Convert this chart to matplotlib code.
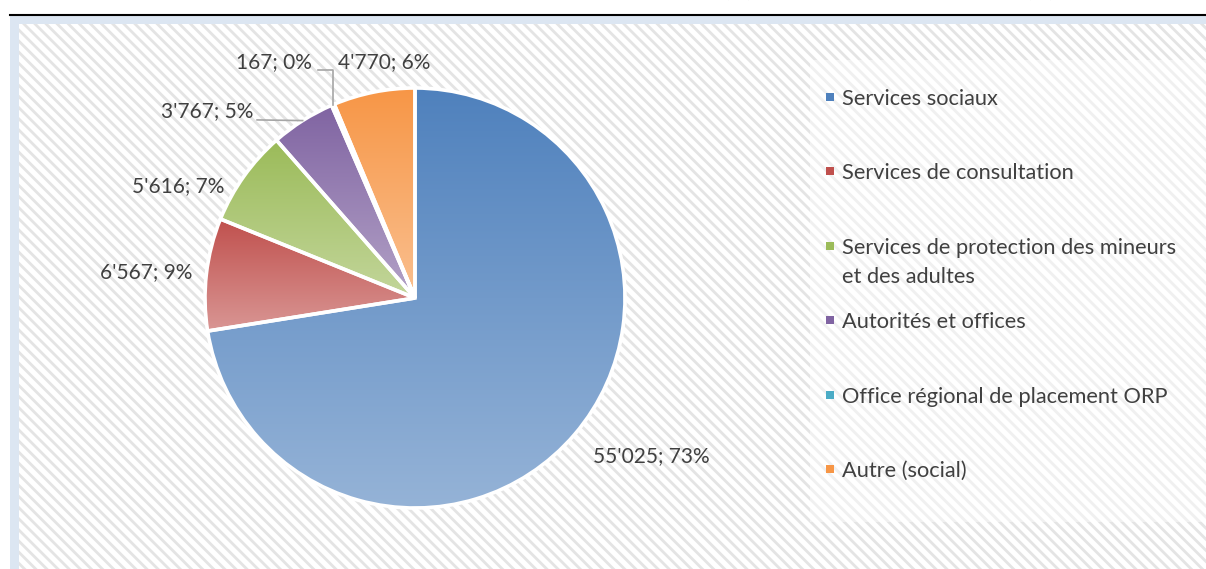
import numpy as np
import matplotlib
matplotlib.use('Agg')
import matplotlib.pyplot as plt
from matplotlib.patches import Rectangle
from matplotlib.lines import Line2D
from matplotlib.colors import LinearSegmentedColormap

# ---- data ----
categories = ["Services sociaux",
              "Services de consultation",
              "Services de protection des mineurs\net des adultes",
              "Autorités et offices",
              "Office régional de placement ORP",
              "Autre (social)"]
values = [55025, 6567, 5616, 3767, 167, 4770]
percents = [73, 9, 7, 5, 0, 6]

# ---- style ----
colors_top = ['#4f81bd', '#c0504d', '#9bbb59', '#8064a2', '#4bacc6', '#f79646']
colors_bottom = ['#95b3d7', '#d99694', '#c3d69b', '#b3a2c7', '#93cddd', '#fac090']
text_color = '#404040'

W, H = 1206, 569
plt.rcParams['font.family'] = ['Lato', 'DejaVu Sans']
plt.rcParams['hatch.linewidth'] = 2.0
fig = plt.figure(figsize=(W / 100, H / 100), dpi=100)
fig.patch.set_facecolor('white')


def fx(px):
    return px / W


def fy(py):
    return 1 - py / H


# frame / background
fig.add_artist(Rectangle((fx(10), 0), 1 - fx(10), fy(16), transform=fig.transFigure,
                         facecolor='#dce6f2', edgecolor='none', zorder=0))
fig.add_artist(Rectangle((fx(19), 0), 1 - fx(19), fy(24), transform=fig.transFigure,
                         facecolor='white', edgecolor='#e4e4e4', hatch='\\\\\\',
                         linewidth=0, zorder=0.5))
fig.add_artist(Line2D([fx(10), 1], [fy(14.5), fy(14.5)], transform=fig.transFigure,
                      color='black', linewidth=1.5, zorder=1))
# cut-off text above the frame
fig.text(fx(739), fy(-3), "(   )", ha='center', va='baseline', fontsize=15, color='black')
fig.text(fx(1041), fy(-3), "(   )", ha='center', va='baseline', fontsize=15, color='black')

# legend area (lighter)
fig.add_artist(Rectangle((fx(810), fy(522)), 1 - fx(810), fy(60) - fy(522),
                         transform=fig.transFigure, facecolor='white', alpha=0.45,
                         edgecolor='none', zorder=0.8))

# ---- pie ----
cx, cy, R = 415, 298, 210
ax = fig.add_axes([fx(cx - R), fy(cy + R), 2 * R / W, 2 * R / H])
ax.set_zorder(5)
ax.axis('off')
wedges, _ = ax.pie(values, startangle=90, counterclock=False, radius=1,
                   colors=colors_top,
                   wedgeprops=dict(edgecolor='white', linewidth=2.6))
grad = np.linspace(0, 1, 256).reshape(-1, 1)
for w, ct, cb in zip(wedges, colors_top, colors_bottom):
    ext = w.get_path().get_extents()
    cmap = LinearSegmentedColormap.from_list('g', [ct, cb])
    im = ax.imshow(grad, cmap=cmap, extent=[ext.x0, ext.x1, ext.y0, ext.y1],
                   origin='upper', aspect='auto', interpolation='bilinear', zorder=1)
    im.set_clip_path(w)
    w.set_facecolor('none')
    w.set_zorder(2)
ax.set_xlim(-1, 1)
ax.set_ylim(-1, 1)
ax.set_aspect('equal')

# data labels
labels = [f"{v:,}".replace(',', "'") + f"; {p}%" for v, p in zip(values, percents)]
label_xy = [(1.125, -0.755), (-1.281, 0.124), (-1.129, 0.533),
            (-0.771, 0.890), (-0.490, 1.124), (-0.367, 1.124)]
label_ha = ['center', 'center', 'center', 'right', 'right', 'left']
for lab, (x, y), ha in zip(labels, label_xy, label_ha):
    ax.text(x, y, lab, ha=ha, va='center', fontsize=15, color=text_color)

# leader lines
def mid_point(w):
    a = np.deg2rad((w.theta1 + w.theta2) / 2)
    return np.cos(a), np.sin(a)

px3, py3 = mid_point(wedges[3])
ax.plot([-0.752, px3], [0.848, py3], color='#a6a6a6', lw=1.2, clip_on=False, zorder=3)
px4, py4 = mid_point(wedges[4])
ax.plot([-0.462, px4, px4], [1.086, 1.086, py4], color='#a6a6a6', lw=1.2,
        clip_on=False, zorder=3)

# ---- legend (drawn manually: equal slots) ----
leg_y = [97, 171, 246, 320, 395, 469]
line_pitch = 29
for lab, c, y in zip(categories, colors_top, leg_y):
    fig.add_artist(Rectangle((fx(826), fy(y + 4)), 8 / W, 8 / H, transform=fig.transFigure,
                             facecolor=c, edgecolor='none', zorder=2))
    for k, line in enumerate(lab.split('\n')):
        fig.text(fx(842), fy(y + 8 + k * line_pitch), line, ha='left', va='baseline',
                 fontsize=15.7, color=text_color, zorder=2)

fig.savefig('out.png', dpi=100, facecolor=fig.get_facecolor())
